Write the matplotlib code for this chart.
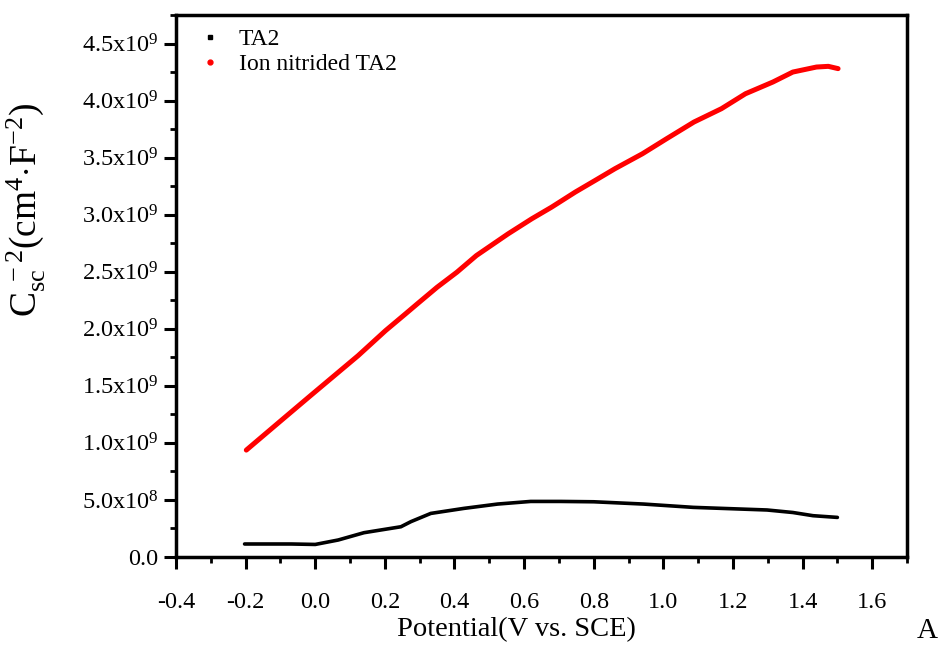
import numpy as np
import matplotlib
matplotlib.use("Agg")
import matplotlib.pyplot as plt
from matplotlib.ticker import MultipleLocator, FuncFormatter
from matplotlib.lines import Line2D

plt.rcParams['font.family'] = 'Liberation Serif'
plt.rcParams['mathtext.fontset'] = 'custom'
plt.rcParams['mathtext.rm'] = 'Liberation Serif'
plt.rcParams['mathtext.it'] = 'Liberation Serif:italic'
plt.rcParams['mathtext.bf'] = 'Liberation Serif:bold'

# TA2 (black), potential in V vs SCE, Csc^-2 in cm^4 F^-2 (x1e9)
ta2_v = [-0.203, -0.069, 0.0, 0.066, 0.14, 0.246, 0.275, 0.332, 0.427, 0.524,
         0.619, 0.705, 0.8, 0.943, 1.086, 1.298, 1.372, 1.43, 1.50]
ta2_c = [0.114, 0.114, 0.11, 0.149, 0.213, 0.265, 0.31, 0.382, 0.426, 0.464,
         0.487, 0.487, 0.484, 0.464, 0.435, 0.412, 0.39, 0.362, 0.347]

# ion nitrided TA2 (red)
nit_v = [-0.198, -0.093, -0.014, 0.066, 0.123, 0.202, 0.259, 0.293, 0.350, 0.407,
         0.463, 0.554, 0.622, 0.679, 0.747, 0.804, 0.861, 0.940, 1.009, 1.088,
         1.167, 1.236, 1.315, 1.372, 1.440, 1.474, 1.502]
nit_c = [0.937, 1.209, 1.413, 1.618, 1.764, 1.984, 2.130, 2.218, 2.364, 2.496,
         2.642, 2.832, 2.964, 3.066, 3.198, 3.300, 3.403, 3.534, 3.665, 3.812,
         3.929, 4.060, 4.163, 4.250, 4.294, 4.300, 4.280]

scale = 1e9

fig = plt.figure(figsize=(9.44, 6.47), dpi=100)
ax = fig.add_axes([176/944, 1-557/647, (907-176)/944, (557-15)/647])

ax.plot(ta2_v, np.array(ta2_c)*scale, color='black', lw=2.6, solid_capstyle='round')
ax.plot(nit_v, np.array(nit_c)*scale, color='red', lw=3.6, solid_capstyle='round')

ax.set_xlim(-0.4, 1.7)
ax.set_ylim(0, 4.75e9)
ax.xaxis.set_major_locator(MultipleLocator(0.2))
ax.xaxis.set_minor_locator(MultipleLocator(0.1))
ax.yaxis.set_major_locator(MultipleLocator(0.5e9))
ax.yaxis.set_minor_locator(MultipleLocator(0.25e9))


def yfmt(v, pos):
    if abs(v) < 1:
        return '0.0'
    e = int(np.floor(np.log10(abs(v))))
    m = v / 10**e
    return r'$\mathrm{%.1fx10^{%d}}$' % (m, e)


ax.yaxis.set_major_formatter(FuncFormatter(yfmt))
ax.xaxis.set_major_formatter(FuncFormatter(lambda v, p: '%.1f' % v))

ax.tick_params(which='major', direction='out', length=8.5, width=2.2, labelsize=17.5)
ax.tick_params(axis='y', which='major', pad=4)
ax.tick_params(axis='x', which='major', pad=17)
ax.tick_params(which='minor', direction='out', length=4.5, width=2.0)
ax.tick_params(top=False, right=False)
for s in ax.spines.values():
    s.set_linewidth(2.5)

ax.set_xlabel('Potential(V vs. SCE)', fontsize=20.5)
ax.xaxis.set_label_coords(0.466, -0.111)
ax.set_ylabel(r'$\mathrm{C_{sc}^{\ -2}(cm^{4}{\cdot}F^{-2})}$', fontsize=27)
ax.yaxis.set_label_coords(-0.175, 0.64)

handles = [Line2D([], [], ls='none', marker='s', ms=3, color='black'),
           Line2D([], [], ls='none', marker='o', ms=3.5, color='red')]
ax.legend(handles, ['TA2', 'Ion nitrided TA2'], loc='upper left', frameon=False,
          fontsize=17, handlelength=1.0, handletextpad=0.7, borderaxespad=0.3,
          labelspacing=0.15, bbox_to_anchor=(0.008, 1.005))

fig.text(927/944, 1-631/647, 'A', fontsize=21, ha='center', va='center')

fig.savefig('out.png', dpi=100)
